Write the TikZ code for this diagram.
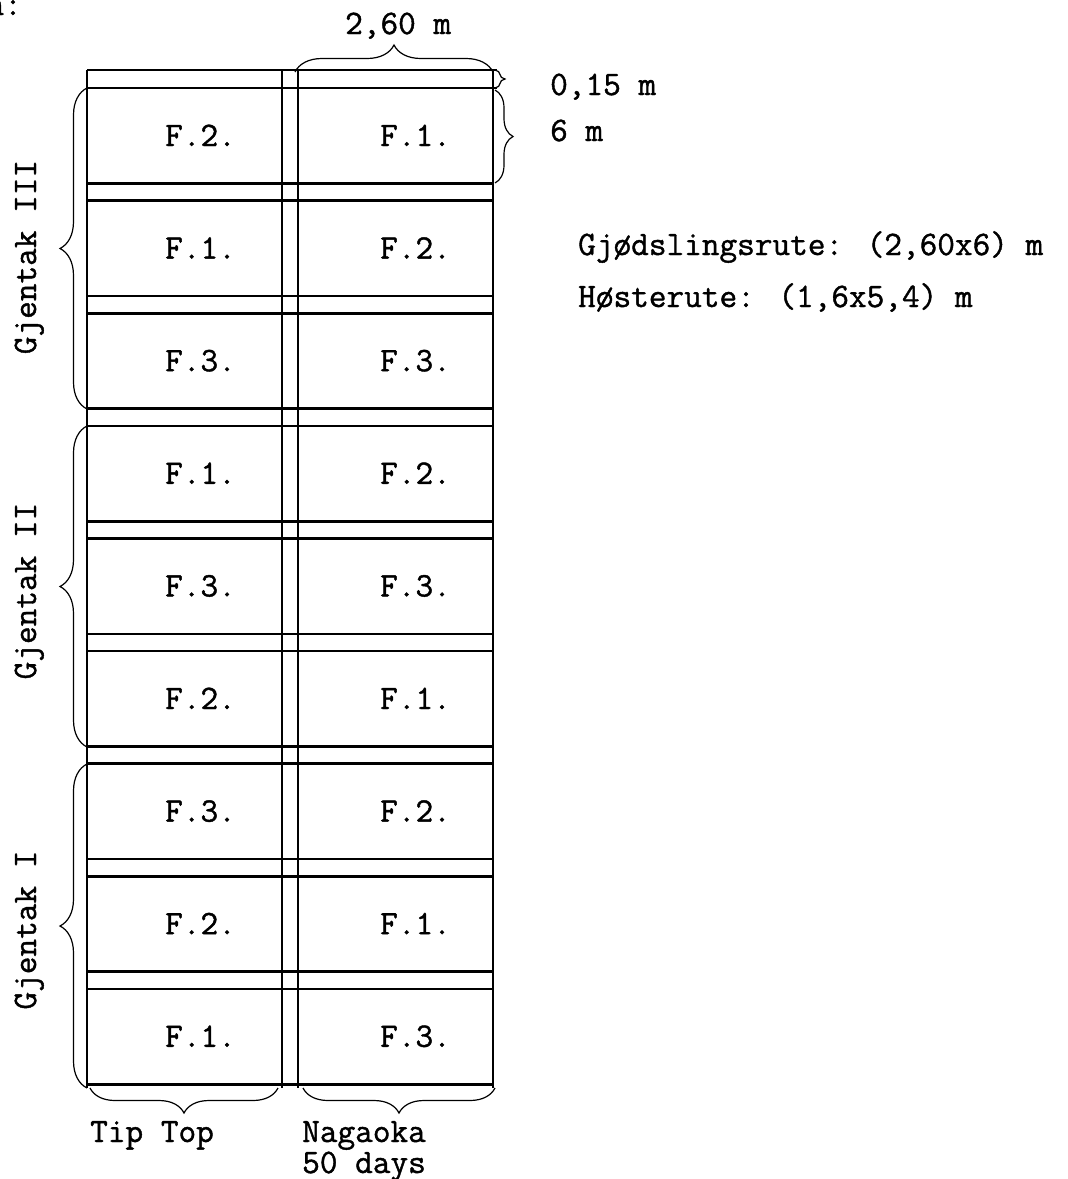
\documentclass[tikz,border=0pt]{standalone}
\usepackage{fontspec}
\newfontfamily\typew{Latin Modern Mono}[FakeBold=1.2]
\usetikzlibrary{decorations.pathreplacing}
\begin{document}
\begin{tikzpicture}[x=1pt,y=-1pt,
  hline/.style={line width=2.6pt},
  vline/.style={line width=1.6pt},
  brc/.style={decorate, decoration={brace, amplitude=#1}, line width=1.2pt},
  txt/.style={font=\typew\fontsize{34.3}{40}\selectfont, inner sep=0pt, anchor=base west},
  rtxt/.style={font=\typew\fontsize{34.3}{40}\selectfont, inner sep=0pt, anchor=base, rotate=90},
]
\useasboundingbox (0,0) rectangle (1068,1179);
% outer frame top lines
\draw[hline] (87,70) -- (497,70);
\draw[hline] (87,88) -- (497,88);
% vertical lines
\draw[vline] (87,70) -- (87,1088);
\draw[vline] (282,70) -- (282,1088);
\draw[vline] (298,70) -- (298,1088);
\draw[vline] (493,70) -- (493,1088);
% rows
\foreach \i/\a/\b in {0/F.2./F.1., 1/F.1./F.2., 2/F.3./F.3., 3/F.1./F.2., 4/F.3./F.3., 5/F.2./F.1., 6/F.3./F.2., 7/F.2./F.1., 8/F.1./F.3.}{
  \pgfmathsetmacro{\t}{88+112.6*\i}
  \pgfmathsetmacro{\bt}{\t+95.5}
  \draw[hline] (87,\t) -- (493,\t);
  \draw[hline] (87,\bt) -- (493,\bt);
  \node[txt] (L\i) at (165,\t+58) {\a};
  \node[txt] (R\i) at (380,\t+58) {\b};
}
% braces left (Gjentak)
\draw[brc=27] (87,409) -- (87,88);
\draw[brc=27] (87,747) -- (87,426);
\draw[brc=27] (87,1088) -- (87,764);
\node[rtxt] (g3) at (36,257) {Gjentak III};
\node[rtxt] (g2) at (36,591) {Gjentak II};
\node[rtxt] (g1) at (36,930) {Gjentak I};
% braces bottom
\draw[brc=25] (278,1088) -- (90,1088);
\draw[brc=25] (495,1088) -- (303,1088);
\node[txt] (tt) at (90,1142) {Tip Top};
\node[txt] (na) at (302,1142) {Nagaoka};
\node[txt] (da) at (302,1173) {50 days};
% brace top
\draw[brc=27] (295,72) -- (493,72);
\node[txt] (w260) at (345,34) {2,60 m};
% braces right
\draw[brc=10] (495,70) -- (495,88);
\draw[brc=18] (495,90) -- (495,183);
\node[txt] (w015) at (550,95) {0,15 m};
\node[txt] (w6) at (550,141) {6 m};
% notes
\node[txt] (gj) at (578,255) {Gjødslingsrute: (2,60x6) m};
\node[txt] (ho) at (578,307) {Høsterute: (1,6x5,4) m};
\node[txt, anchor=base east] (nn) at (22,15) {n:};
\end{tikzpicture}
\end{document}
